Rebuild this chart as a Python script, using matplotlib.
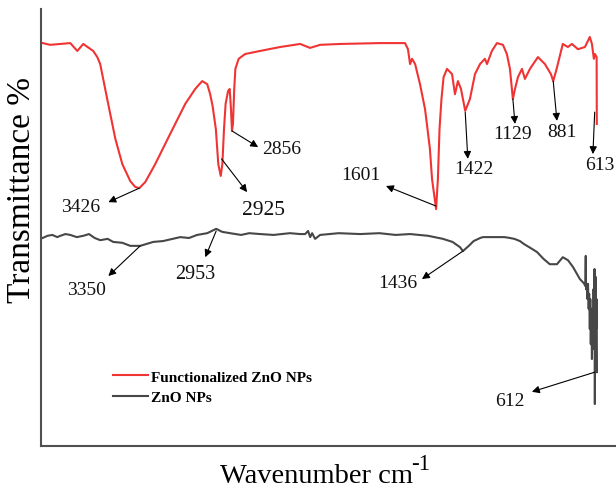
import matplotlib
matplotlib.use("Agg")
import matplotlib.pyplot as plt

plt.rcParams['font.family'] = ['Liberation Serif', 'DejaVu Serif']

# Functionalized ZnO NPs (red)
red_wn = [4020, 3973, 3850, 3807, 3770, 3709, 3684, 3666, 3623, 3573, 3530, 3481, 3451, 3426,
          3389, 3328, 3236, 3143, 3082, 3039, 3008, 2990, 2975, 2955, 2940, 2925, 2915, 2905,
          2895, 2880, 2870, 2862, 2856, 2850, 2842, 2835, 2815, 2775, 2683, 2560, 2437, 2376,
          2314, 2191, 1946, 1792, 1774, 1761, 1749, 1730, 1700, 1669, 1639, 1626, 1601, 1590,
          1580, 1568, 1555, 1534, 1503, 1485, 1467, 1448, 1422, 1393, 1362, 1331, 1301, 1288,
          1258, 1227, 1190, 1166, 1147, 1135, 1129, 1116, 1098, 1073, 1055, 1024, 975, 932,
          895, 881, 860, 822, 791, 766, 729, 686, 656, 643, 631, 625, 614, 613]
red_t = [92.2, 91.8, 92.2, 90.4, 92.0, 90.4, 89.0, 87.4, 79.4, 70.3, 64.5, 60.6, 59.3, 59.0,
         60.4, 64.5, 71.4, 78.3, 81.7, 83.5, 82.8, 80.5, 77.8, 72.5, 64.5, 61.8, 64.5, 72.5,
         78.3, 81.2, 81.7, 77.1, 72.1, 73.7, 81.7, 86.3, 88.6, 89.7, 90.4, 91.3, 92.0, 91.1,
         91.8, 92.0, 92.2, 92.2, 90.8, 87.4, 88.6, 87.4, 82.8, 77.1, 68.0, 61.1, 54.2, 61.1,
         72.5, 79.4, 84.4, 86.3, 85.1, 80.5, 83.5, 81.7, 76.7, 79.4, 85.1, 87.4, 88.6, 87.4,
         90.4, 92.2, 91.8, 89.7, 86.3, 81.7, 79.4, 81.7, 84.4, 86.3, 84.0, 86.3, 89.0, 87.4,
         85.1, 83.5, 86.3, 92.0, 91.3, 92.0, 90.8, 91.3, 93.6, 92.0, 88.6, 89.7, 89.0, 73.7]

# ZnO NPs (grey)
grey_wn = [4020, 3990, 3960, 3930, 3911, 3880, 3850, 3810, 3770, 3735, 3700, 3666, 3620, 3586,
           3530, 3481, 3420, 3340, 3279, 3174, 3120, 3070, 3008, 2953, 2916, 2867, 2800, 2750,
           2683, 2600, 2500, 2437, 2406, 2388, 2375, 2363, 2345, 2314, 2200, 2068, 1950, 1850,
           1761, 1650, 1559, 1500, 1454, 1436, 1400, 1370, 1330, 1313, 1250, 1180, 1147, 1120,
           1086, 1060, 1020, 981, 940, 902, 858, 822, 790, 760, 717, 699, 690, 684, 681, 679,
           675, 670, 667, 663, 660, 656, 653, 650, 647, 643, 640, 636, 633, 630, 627, 625, 623,
           620, 617, 614, 612]
grey_t = [47.6, 48.1, 48.3, 47.8, 48.1, 48.5, 48.3, 47.8, 48.1, 48.5, 47.6, 47.1, 47.4, 46.7,
          46.5, 45.8, 45.8, 46.7, 46.9, 47.8, 47.6, 48.3, 48.7, 49.7, 49.0, 48.7, 48.3, 48.7,
          48.5, 48.3, 48.7, 48.5, 48.5, 49.2, 47.8, 48.7, 47.4, 48.3, 48.7, 48.5, 48.7, 48.3,
          48.5, 48.1, 47.4, 46.7, 45.5, 44.6, 45.8, 46.9, 47.6, 47.8, 47.8, 47.8, 47.6, 47.4,
          46.9, 46.2, 45.3, 44.4, 42.8, 41.6, 41.6, 43.2, 42.5, 41.0, 38.2, 37.5, 37.1, 36.6,
          43.5, 35.9, 36.4, 33.6, 37.1, 31.4, 34.8, 26.8, 33.6, 23.3, 31.4, 19.9, 29.1, 22.2,
          35.9, 24.5, 40.5, 9.6, 33.6, 38.7, 26.8, 33.6, 16.9]

# peak labels with arrow tail (on the curve), arrow head and text positions
labels = ["3426", "2925", "2856", "1601", "1422", "1129", "881", "613",
          "3350", "2953", "1436", "612"]
tail_wn = [3426, 2920, 2856, 1601, 1422, 1129, 881, 626, 3420, 2953, 1436, 625]
tail_t = [59.0, 65.7, 72.1, 54.9, 76.4, 79.4, 83.5, 76.4, 45.8, 49.2, 44.6, 16.9]
head_wn = [3616, 2763, 2695, 1909, 1406, 1116, 858, 637, 3616, 3020, 1688, 1012]
head_t = [55.8, 58.1, 68.4, 59.5, 65.7, 73.7, 74.4, 66.8, 38.9, 43.2, 38.2, 12.4]
text_wn = [3788, 2664, 2548, 2063, 1369, 1129, 828, 594, 3751, 3082, 1835, 1148]
text_t = [54.7, 54.2, 68.0, 62.2, 63.6, 71.4, 71.9, 64.5, 35.9, 39.4, 37.3, 10.3]
text_size = [14, 15.5, 14, 14, 14, 14, 14, 14, 14, 14.5, 14, 14]

fig = plt.figure(figsize=(6.16, 4.89), dpi=100)
ax = fig.add_axes([41 / 616, 42 / 489, 575 / 616, 437 / 489])

red_line, = ax.plot(red_wn, red_t, color='#f03434', lw=1.5, label='Functionalized ZnO NPs')
grey_line, = ax.plot(grey_wn, grey_t, color='#474747', lw=1.5, label='ZnO NPs')

for lab, tx, ty, hx, hy, px, py, fs in zip(labels, tail_wn, tail_t, head_wn, head_t,
                                           text_wn, text_t, text_size):
    ax.annotate('', xy=(hx, hy), xytext=(tx, ty),
                arrowprops=dict(arrowstyle='-|>', color='black', lw=0.8,
                                mutation_scale=11, shrinkA=0, shrinkB=0))
    ax.text(px, py, lab, fontsize=fs, ha='center', va='center', color='#111111')

ax.set_xlim(4030, 495)
ax.set_ylim(0, 100)
ax.set_xticks([])
ax.set_yticks([])
for s in ['top', 'right']:
    ax.spines[s].set_visible(False)
for s in ['left', 'bottom']:
    ax.spines[s].set_color('#505050')
    ax.spines[s].set_linewidth(1.5)

leg = ax.legend(handles=[red_line, grey_line], loc='center left',
                bbox_to_anchor=(0.125, 0.135), frameon=False,
                prop={'weight': 'bold', 'size': 11, 'family': 'Liberation Serif'},
                handlelength=2.3, handletextpad=0.2, labelspacing=0.45,
                borderpad=0, borderaxespad=0)

fig.text(22 / 616, 1 - 190 / 489, 'Transmittance %', rotation=90, fontsize=24,
         ha='center', va='center')
fig.text(220 / 616, 1 - 483 / 489, 'Wavenumber cm', fontsize=20.5,
         ha='left', va='baseline')
fig.text(411 / 616, 1 - 470 / 489, '-1', fontsize=16.5,
         ha='left', va='baseline')

fig.savefig('out.png', dpi=100)
